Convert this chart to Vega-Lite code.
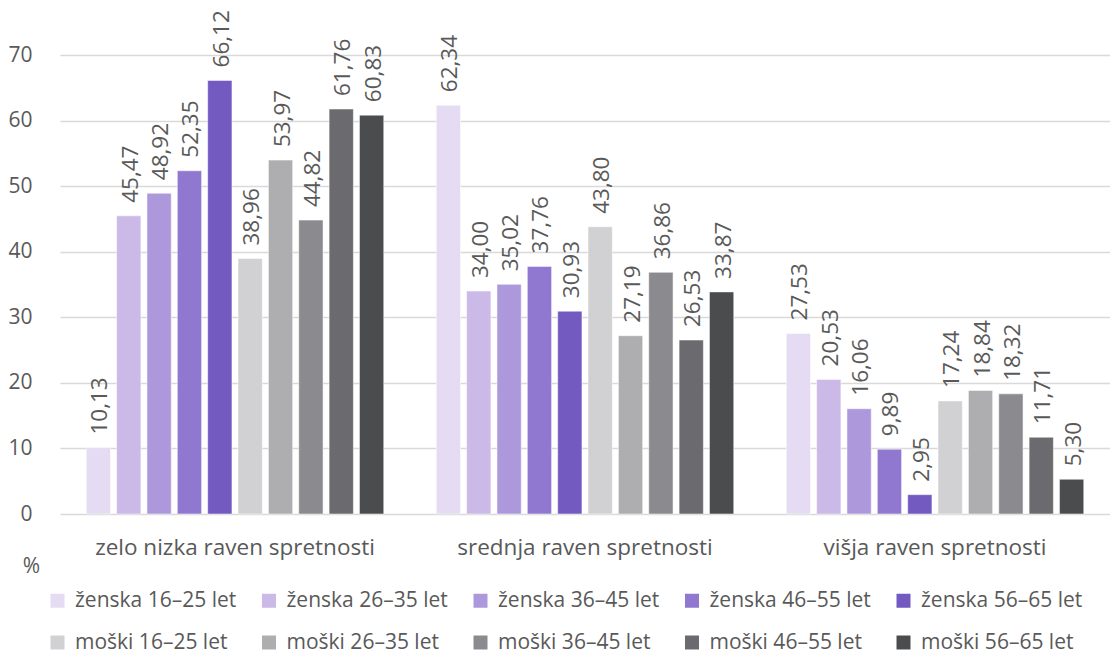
{
  "$schema": "https://vega.github.io/schema/vega-lite/v6.json",
  "width": 1050,
  "height": 459,
  "autosize": {"type": "none"},
  "padding": {"left": 60, "top": 55, "right": 0, "bottom": 141},
  "background": "white",
  "config": {
    "font": "Open Sans",
    "view": {"stroke": null},
    "locale": {"number": {"decimal": ",", "thousands": ".", "grouping": [3], "currency": ["", " €"]}}
  },
  "data": {
    "values": [
      {"raven": "zelo nizka raven spretnosti", "skupina": "ženska 16–25 let", "vrednost": 10.13},
      {"raven": "zelo nizka raven spretnosti", "skupina": "ženska 26–35 let", "vrednost": 45.47},
      {"raven": "zelo nizka raven spretnosti", "skupina": "ženska 36–45 let", "vrednost": 48.92},
      {"raven": "zelo nizka raven spretnosti", "skupina": "ženska 46–55 let", "vrednost": 52.35},
      {"raven": "zelo nizka raven spretnosti", "skupina": "ženska 56–65 let", "vrednost": 66.12},
      {"raven": "zelo nizka raven spretnosti", "skupina": "moški 16–25 let", "vrednost": 38.96},
      {"raven": "zelo nizka raven spretnosti", "skupina": "moški 26–35 let", "vrednost": 53.97},
      {"raven": "zelo nizka raven spretnosti", "skupina": "moški 36–45 let", "vrednost": 44.82},
      {"raven": "zelo nizka raven spretnosti", "skupina": "moški 46–55 let", "vrednost": 61.76},
      {"raven": "zelo nizka raven spretnosti", "skupina": "moški 56–65 let", "vrednost": 60.83},
      {"raven": "srednja raven spretnosti", "skupina": "ženska 16–25 let", "vrednost": 62.34},
      {"raven": "srednja raven spretnosti", "skupina": "ženska 26–35 let", "vrednost": 34.00},
      {"raven": "srednja raven spretnosti", "skupina": "ženska 36–45 let", "vrednost": 35.02},
      {"raven": "srednja raven spretnosti", "skupina": "ženska 46–55 let", "vrednost": 37.76},
      {"raven": "srednja raven spretnosti", "skupina": "ženska 56–65 let", "vrednost": 30.93},
      {"raven": "srednja raven spretnosti", "skupina": "moški 16–25 let", "vrednost": 43.80},
      {"raven": "srednja raven spretnosti", "skupina": "moški 26–35 let", "vrednost": 27.19},
      {"raven": "srednja raven spretnosti", "skupina": "moški 36–45 let", "vrednost": 36.86},
      {"raven": "srednja raven spretnosti", "skupina": "moški 46–55 let", "vrednost": 26.53},
      {"raven": "srednja raven spretnosti", "skupina": "moški 56–65 let", "vrednost": 33.87},
      {"raven": "višja raven spretnosti", "skupina": "ženska 16–25 let", "vrednost": 27.53},
      {"raven": "višja raven spretnosti", "skupina": "ženska 26–35 let", "vrednost": 20.53},
      {"raven": "višja raven spretnosti", "skupina": "ženska 36–45 let", "vrednost": 16.06},
      {"raven": "višja raven spretnosti", "skupina": "ženska 46–55 let", "vrednost": 9.89},
      {"raven": "višja raven spretnosti", "skupina": "ženska 56–65 let", "vrednost": 2.95},
      {"raven": "višja raven spretnosti", "skupina": "moški 16–25 let", "vrednost": 17.24},
      {"raven": "višja raven spretnosti", "skupina": "moški 26–35 let", "vrednost": 18.84},
      {"raven": "višja raven spretnosti", "skupina": "moški 36–45 let", "vrednost": 18.32},
      {"raven": "višja raven spretnosti", "skupina": "moški 46–55 let", "vrednost": 11.71},
      {"raven": "višja raven spretnosti", "skupina": "moški 56–65 let", "vrednost": 5.30}
    ]
  },
  "encoding": {
    "x": {
      "field": "raven", "type": "nominal", "sort": null,
      "scale": {"paddingInner": 0.15, "paddingOuter": 0.075},
      "axis": {"title": null, "labelAngle": 0, "ticks": false, "domain": false, "labelFontSize": 22.5, "labelColor": "#595959", "labelPadding": 22, "labelFont": "Open Sans", "labelLimit": 400}
    },
    "xOffset": {
      "field": "skupina", "type": "nominal",
      "scale": {"domain": ["ženska 16–25 let", "ženska 26–35 let", "ženska 36–45 let", "ženska 46–55 let", "ženska 56–65 let", "moški 16–25 let", "moški 26–35 let", "moški 36–45 let", "moški 46–55 let", "moški 56–65 let"], "paddingInner": 0.2, "paddingOuter": 0}
    },
    "y": {
      "field": "vrednost", "type": "quantitative",
      "scale": {"domain": [0, 70], "nice": false},
      "axis": {"values": [0, 10, 20, 30, 40, 50, 60, 70], "ticks": false, "domain": false, "labelFontSize": 21, "labelColor": "#595959", "labelPadding": 28, "gridColor": "#d9d9d9", "gridWidth": 1.3, "title": "%", "titleAngle": 0, "titleX": -29, "titleY": 511, "titleAlign": "center", "titleBaseline": "middle", "titleFontSize": 21, "titleFontWeight": "normal", "titleColor": "#595959", "format": "d"}
    }
  },
  "layer": [
    {
      "mark": {"type": "bar", "stroke": "white", "strokeWidth": 1, "strokeOpacity": 0.5},
      "encoding": {
        "color": {
          "field": "skupina", "type": "nominal",
          "scale": {
            "domain": ["ženska 16–25 let", "ženska 26–35 let", "ženska 36–45 let", "ženska 46–55 let", "ženska 56–65 let", "moški 16–25 let", "moški 26–35 let", "moški 36–45 let", "moški 46–55 let", "moški 56–65 let"],
            "range": ["#e5dcf3", "#cbb9e8", "#ad98dc", "#9078d0", "#725ac1", "#d1d1d3", "#aeaeb1", "#8b8b8f", "#6b6b6f", "#4b4c4e"]
          },
          "legend": {
            "title": null, "orient": "none", "legendX": -13, "legendY": 535, "direction": "horizontal", "columns": 5,
            "symbolType": "square", "symbolSize": 196, "symbolStrokeWidth": 0, "labelFontSize": 21, "labelColor": "#595959", "labelFont": "Open Sans",
            "labelOffset": 7, "columnPadding": 21.5, "rowPadding": 20, "labelLimit": 300
          }
        }
      }
    },
    {
      "mark": {"type": "text", "angle": -90, "align": "left", "baseline": "middle", "dx": 13, "dy": 2, "fontSize": 22.5, "color": "#595959", "font": "Open Sans"},
      "encoding": {
        "text": {"field": "vrednost", "type": "quantitative", "format": ".2f"}
      }
    }
  ]
}
